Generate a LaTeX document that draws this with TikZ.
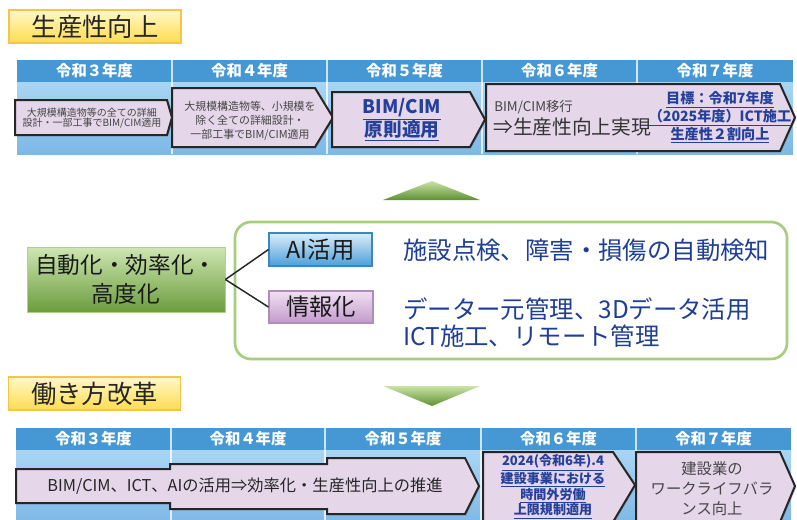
\documentclass[tikz,border=0pt]{standalone}
\usepackage{fontspec}
\setmainfont{Noto Sans CJK JP}
\usetikzlibrary{shadows}
\definecolor{hdr}{HTML}{4598D4}
\definecolor{bodyT}{HTML}{A9D5F3}
\definecolor{bodyB}{HTML}{7DB8E6}
\definecolor{lav}{HTML}{E5D6EA}
\definecolor{linkblue}{HTML}{24409A}
\definecolor{navy}{HTML}{1F3F94}
\definecolor{grtxt}{HTML}{454545}
\definecolor{yellowT}{HTML}{FFF8C8}
\definecolor{yellowB}{HTML}{FFDC50}
\definecolor{yborder}{HTML}{F5C548}
\definecolor{triT}{HTML}{C9E3A6}
\definecolor{triB}{HTML}{5F9132}
\definecolor{greenT}{HTML}{CFE6B2}
\definecolor{greenB}{HTML}{6A9C3C}
\definecolor{boxgreen}{HTML}{A6CE7E}
\definecolor{aiT}{HTML}{DCEDF9}
\definecolor{aiB}{HTML}{4C9FD9}
\definecolor{aiBorder}{HTML}{3B87C2}
\definecolor{infT}{HTML}{F0E0F2}
\definecolor{infB}{HTML}{C29ACB}
\definecolor{infBorder}{HTML}{B18CBB}
\tikzset{
  titlebox/.style={draw=yborder, line width=1pt, top color=yellowT, bottom color=yellowB,
    minimum width=129pt, minimum height=24.75pt, inner sep=0pt, text=black!85,
    font=\fontsize{19}{20}\selectfont},
  hdrtext/.style={text=white, font=\bfseries\fontsize{11.5}{12}\selectfont, inner sep=0pt},
  divider/.style={draw=white, line width=0.8pt, opacity=0.75},
  arrowbox/.style={fill=lav, draw=black!85, line width=1.5pt, line join=miter,
    drop shadow={shadow xshift=1pt, shadow yshift=-1pt, opacity=0.35}},
  graytext/.style={text=grtxt, align=center, inner sep=0pt},
  linktext/.style={text=linkblue, align=center, inner sep=0pt},
  bluetext/.style={text=navy, anchor=west, inner sep=0pt, font=\fontsize{18.3}{20}\selectfont},
  greenbox/.style={draw=greenT!70!greenB, line width=0.6pt, top color=greenT, bottom color=greenB,
    minimum width=148.5pt, minimum height=48.75pt, inner sep=0pt, align=center,
    font=\fontsize{17}{21.75}\selectfont, text=black!90},
  aibox/.style={draw=aiBorder, line width=0.8pt, top color=aiT, bottom color=aiB,
    minimum width=77.25pt, minimum height=24.75pt, inner sep=0pt,
    font=\fontsize{17.5}{18}\selectfont, text=black!90},
  infobox/.style={draw=infBorder, line width=0.8pt, top color=infT, bottom color=infB,
    minimum width=78pt, minimum height=24pt, inner sep=0pt,
    font=\fontsize{17.5}{18}\selectfont, text=black!90},
  connector/.style={draw=black!85, line width=1.1pt},
}
\begin{document}
\begin{tikzpicture}[x=0.75pt,y=-0.75pt]
\useasboundingbox (0,0) rectangle (797,519);
\clip (0,0) rectangle (797,519);
\fill[white] (0,0) rectangle (797,519);

% ---------- title 1
\node[titlebox] (title1) at (95,26.5) {生産性向上};

% ---------- top table
\fill[hdr] (17,60) rectangle (793,82);
\shade[top color=bodyT, bottom color=bodyB] (17,82) rectangle (793,154);
\foreach \x in {172,327,482,637} \draw[divider] (\x,60) -- (\x,154);
\node[hdrtext] (th3) at (94.5,71) {令和３年度};
\node[hdrtext] (th4) at (249.5,71) {令和４年度};
\node[hdrtext] (th5) at (404.5,71) {令和５年度};
\node[hdrtext] (th6) at (559.5,71) {令和６年度};
\node[hdrtext] (th7) at (715,71) {令和７年度};

% top arrows
\draw[arrowbox] (15,100) -- (167,100) -- (172,117.5) -- (167,135) -- (15,135) -- cycle;
\node[graytext, font=\fontsize{7.5}{7.8}\selectfont] (u1) at (92,118)
  {大規模構造物等の全ての詳細\\設計・一部工事でBIM/CIM適用};

\draw[arrowbox] (172,88) -- (315,88) -- (333,117.5) -- (315,147) -- (172,147) -- cycle;
\node[graytext, font=\fontsize{8.2}{10.5}\selectfont] (u2) at (250,121)
  {大規模構造物等、小規模を\\除く全ての詳細設計・\\一部工事でBIM/CIM適用};

\draw[arrowbox] (332,92) -- (470,92) -- (485,119.5) -- (470,147) -- (332,147) -- cycle;
\node[linktext, font=\bfseries\fontsize{14}{17}\selectfont] (u3) at (402,119.5)
  {\underline{BIM/CIM}\\\underline{原則適用}};

\draw[arrowbox] (486,84) -- (780,84) -- (795,117.5) -- (780,151) -- (486,151) -- cycle;
\node[anchor=west, text=grtxt, inner sep=0pt, font=\fontsize{10}{11}\selectfont] (u4a) at (494,107) {BIM/CIM移行};
\node[anchor=west, text=black!80, inner sep=0pt, font=\fontsize{14.8}{16}\selectfont] (u4b) at (493,127) {⇒生産性向上実現};
\node[linktext, font=\bfseries\fontsize{10.6}{11.7}\selectfont] (u4c) at (720,117.5)
  {\underline{目標：令和7年度}\\\underline{（2025年度）ICT施工}\\\underline{生産性２割向上}};

% ---------- middle
\shade[top color=triT, bottom color=triB] (383,200) -- (432,181) -- (480,200) -- cycle;
\draw[rounded corners=12pt, line width=2pt, draw=boxgreen] (235,222) rectangle (787,359);
\node[greenbox] (auto) at (126,279.5) {自動化・効率化・\\高度化};
\node[aibox] (ai) at (320.5,249.5) {AI活用};
\node[infobox] (info) at (321,307) {情報化};
\draw[connector] (auto.east) -- (ai.west);
\draw[connector] (auto.east) -- (info.west);
\node[bluetext] (d1) at (403,250) {施設点検、障害・損傷の自動検知};
\node[bluetext] (d2) at (403,309) {データー元管理、3Dデータ活用};
\node[bluetext] (d3) at (403,336) {ICT施工、リモート管理};
\shade[top color=triT, bottom color=triB] (383,386) -- (480,386) -- (432,406) -- cycle;

% ---------- title 2
\node[titlebox] (title2) at (94.5,393.5) {働き方改革};

% ---------- bottom table
\fill[hdr] (16,428) rectangle (791,450);
\shade[top color=bodyT, bottom color=bodyB] (16,450) rectangle (791,525);
\foreach \x in {171,325,481,636} \draw[divider] (\x,428) -- (\x,525);
\node[hdrtext] (bh3) at (93.5,439) {令和３年度};
\node[hdrtext] (bh4) at (248,439) {令和４年度};
\node[hdrtext] (bh5) at (403,439) {令和５年度};
\node[hdrtext] (bh6) at (558.5,439) {令和６年度};
\node[hdrtext] (bh7) at (713.5,439) {令和７年度};

% bottom arrows
\draw[arrowbox] (16,469) -- (170,469) -- (170,464) -- (327,464) -- (327,458) -- (465,458)
  -- (479,486) -- (465,514) -- (327,514) -- (327,509) -- (170,509) -- (170,503) -- (16,503) -- cycle;
\node[text=black!85, inner sep=0pt, font=\fontsize{12.2}{13}\selectfont] (w1) at (245,486)
  {BIM/CIM、ICT、AIの活用⇒効率化・生産性向上の推進};

\draw[arrowbox] (483,452) -- (613,452) -- (635,485) -- (613,522) -- (483,522) -- cycle;
\node[linktext, font=\bfseries\fontsize{9.8}{11.8}\selectfont] (w2) at (553,486.5)
  {\underline{2024(令和6年).4}\\\underline{建設事業における}\\\underline{時間外労働}\\\underline{上限規制適用}};

\draw[arrowbox] (636,452) -- (780,452) -- (795,486) -- (780,522) -- (636,522) -- cycle;
\node[graytext, font=\fontsize{11.5}{15}\selectfont] (w3) at (712,489)
  {建設業の\\ワークライフバラ\\ンス向上};
\end{tikzpicture}
\end{document}
